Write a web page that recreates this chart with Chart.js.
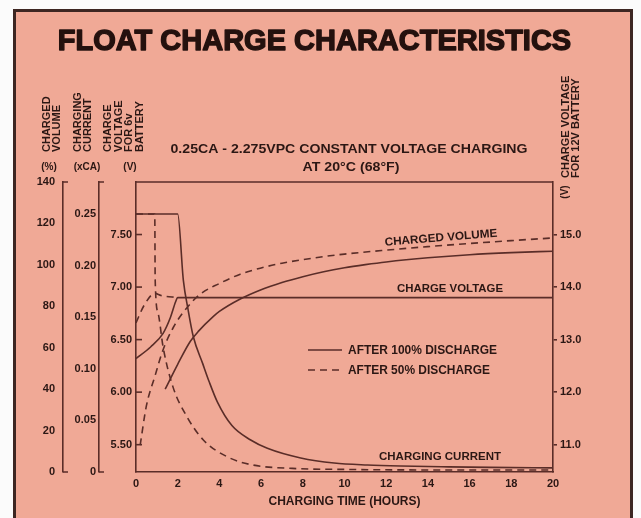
<!DOCTYPE html>
<html><head><meta charset="utf-8">
<script src="https://cdn.jsdelivr.net/npm/chart.js@4.4.1/dist/chart.umd.min.js"></script>
<style>
html,body{margin:0;padding:0;background:#fbfbfb;width:641px;height:518px;overflow:hidden;}
#box{position:absolute;left:13px;top:9px;width:614px;height:530px;background:#F0A996;border:3px solid #3d2622;}
canvas{position:absolute;left:0;top:0;}
</style></head><body>
<div id="box"></div>
<canvas id="c" width="641" height="518"></canvas>
<script>
// ---- tick values / labels ----
const hourTicks = [0, 2, 4, 6, 8, 10, 12, 14, 16, 18, 20];
const volTicks = [0, 20, 40, 60, 80, 100, 120, 140];
const curTicks = [0, 0.05, 0.10, 0.15, 0.20, 0.25];
const curTickLabels = ['0', '0.05', '0.10', '0.15', '0.20', '0.25'];
const v6Ticks = [5.5, 6.0, 6.5, 7.0, 7.5];
const v6TickLabels = ['5.50', '6.00', '6.50', '7.00', '7.50'];
const v12Ticks = [11, 12, 13, 14, 15];
const v12TickLabels = ['11.0', '12.0', '13.0', '14.0', '15.0'];

// ---- charged volume (%) ----
const volSolidHours = [1.4, 2, 2.6, 3, 3.7, 4, 5, 6, 7, 8, 9, 10, 11, 12, 14, 16, 18, 20];
const volSolid      = [40, 52, 63, 68, 75, 77.5, 83.5, 88, 91.5, 94.3, 96.7, 98.6, 100.1, 101.4, 103.4, 104.9, 105.9, 106.6];
const volDashHours  = [0.2, 0.5, 0.9, 1.3, 1.8, 2.5, 3.1, 4, 5, 6, 7, 8, 9, 10, 12, 14, 16, 18, 20];
const volDash       = [13, 32, 46, 59, 70, 80, 86, 91, 95.5, 98.5, 100.8, 102.5, 104, 105.2, 107.1, 108.8, 110.3, 111.7, 113];

// ---- charge voltage, 6V battery (V) ----
const voltSolidHours = [0, 0.7, 1.3, 1.65, 1.9, 2.0, 20];
const voltSolid      = [6.32, 6.43, 6.56, 6.71, 6.86, 6.9, 6.9];
const voltDashHours  = [0, 0.4, 0.9, 1.2, 2.0];
const voltDash       = [6.66, 6.83, 6.94, 6.92, 6.9];

// ---- charging current (xCA) ----
const curSolidHours = [0, 2.0, 2.27, 2.5, 2.75, 3.2, 3.5, 3.9, 4.6, 5.5, 6.3, 7.9, 9.5, 11.1, 12.7, 15, 17, 20];
const curSolid      = [0.25, 0.25, 0.186, 0.157, 0.131, 0.105, 0.088, 0.068, 0.045, 0.031, 0.023, 0.0136, 0.0087, 0.0068, 0.0058, 0.005, 0.0045, 0.004];
const curDashHours  = [0, 0.9, 0.92, 1.06, 1.3, 1.78, 2.46, 3.23, 4.4, 5.6, 7.5, 10, 14, 20];
const curDash       = [0.25, 0.25, 0.186, 0.154, 0.121, 0.082, 0.053, 0.031, 0.0145, 0.0068, 0.0035, 0.0025, 0.002, 0.002];

const LINE = '#5a2d28';
const TXT = '#2b1714';
const FAM = "'Liberation Sans', Arial, Helvetica, sans-serif";

function pts(xs, ys) { return xs.map((x, i) => ({x: x, y: ys[i]})); }
function series(label, xs, ys, axis, dashed) {
  return {label: label, data: pts(xs, ys), yAxisID: axis, borderColor: LINE, borderWidth: 1.6,
    borderDash: dashed ? [7, 5] : [], pointRadius: 0, fill: false, cubicInterpolationMode: 'monotone'};
}

function T(ctx, s, x, y, size, o) {
  o = o || {};
  ctx.save();
  ctx.font = (o.weight || 'bold') + ' ' + size + 'px ' + FAM;
  ctx.fillStyle = TXT;
  ctx.textAlign = o.align || 'center';
  ctx.textBaseline = 'middle';
  ctx.translate(x, y);
  if (o.rot) ctx.rotate(o.rot);
  if (o.w) { const m = ctx.measureText(s).width; ctx.scale(o.w / m, 1); }
  ctx.fillText(s, 0, 0);
  ctx.restore();
}

const decor = {
  id: 'decor',
  afterDraw(chart) {
    const ctx = chart.ctx, a = chart.chartArea;
    // thicken the heavy title glyphs
    const tb = chart.titleBlock, to = chart.options.plugins.title;
    if (tb) {
      ctx.save();
      ctx.font = 'bold ' + to.font.size + 'px ' + FAM;
      ctx.textAlign = 'center'; ctx.textBaseline = 'middle';
      ctx.strokeStyle = to.color; ctx.lineWidth = 1.4; ctx.lineJoin = 'round';
      ctx.strokeText(to.text, (tb.left + tb.right) / 2, tb.top + to.padding.top + to.font.size * 1.2 / 2);
      ctx.restore();
    }
    ctx.save();
    ctx.strokeStyle = LINE; ctx.lineWidth = 1.6;
    // top frame line of plot
    ctx.beginPath(); ctx.moveTo(a.left, a.top); ctx.lineTo(a.right, a.top); ctx.stroke();
    // end ticks on the outer axes
    ['yVol', 'yCur'].forEach(id => {
      const s = chart.scales[id];
      ctx.beginPath();
      ctx.moveTo(s.right, a.top); ctx.lineTo(s.right + 5, a.top);
      ctx.moveTo(s.right, a.bottom); ctx.lineTo(s.right + 5, a.bottom);
      ctx.stroke();
    });
    // inner ticks on 6V axis
    const sv = chart.scales.yV6;
    sv.ticks.forEach(t => {
      const y = sv.getPixelForValue(t.value);
      ctx.beginPath(); ctx.moveTo(a.left, y); ctx.lineTo(a.left + 6, y); ctx.stroke();
    });
    // legend
    ctx.beginPath(); ctx.moveTo(308, 350); ctx.lineTo(342, 350); ctx.stroke();
    ctx.setLineDash([7, 5]);
    ctx.beginPath(); ctx.moveTo(308, 370); ctx.lineTo(344, 370); ctx.stroke();
    ctx.setLineDash([]);
    ctx.restore();

    T(ctx, 'AFTER 100% DISCHARGE', 348, 351, 12, {align: 'left', w: 149});
    T(ctx, 'AFTER 50% DISCHARGE', 348, 371, 12, {align: 'left', w: 142});
    T(ctx, 'CHARGED VOLUME', 441, 238, 11.5, {rot: -0.08, w: 113});
    T(ctx, 'CHARGE VOLTAGE', 450, 289, 11.5, {w: 106});
    T(ctx, 'CHARGING CURRENT', 440, 457, 11.5, {w: 122});

    // subtitle
    T(ctx, '0.25CA - 2.275VPC CONSTANT VOLTAGE CHARGING', 349, 149, 13.5, {w: 357});
    T(ctx, 'AT 20°C (68°F)', 351, 167, 13.5, {w: 97});

    // left axis titles (rotated)
    const R = -Math.PI / 2;
    T(ctx, 'CHARGED', 47, 152, 11, {rot: R, align: 'left'});
    T(ctx, 'VOLUME', 57, 152, 11, {rot: R, align: 'left'});
    T(ctx, 'CHARGING', 78, 152, 11, {rot: R, align: 'left'});
    T(ctx, 'CURRENT', 88, 152, 11, {rot: R, align: 'left'});
    T(ctx, 'CHARGE', 108, 152, 11, {rot: R, align: 'left'});
    T(ctx, 'VOLTAGE', 118.5, 152, 11, {rot: R, align: 'left'});
    T(ctx, 'FOR 6v', 129, 152, 11, {rot: R, align: 'left'});
    T(ctx, 'BATTERY', 139.5, 152, 11, {rot: R, align: 'left'});
    T(ctx, '(%)', 49, 167, 10);
    T(ctx, '(xCA)', 87, 167, 10);
    T(ctx, '(V)', 130, 167, 10);
    // right axis title
    T(ctx, 'CHARGE VOLTAGE', 566, 178, 11, {rot: R, align: 'left'});
    T(ctx, 'FOR 12V BATTERY', 576, 178, 11, {rot: R, align: 'left'});
    T(ctx, '(V)', 565, 192, 10, {rot: R});
  }
};

const tickFont = {family: FAM, size: 11, weight: 'bold'};
function fixed(list) { return s => { s.ticks = list.map(v => ({value: v})); }; }
function yAxis(pos, weight, min, max, ticks, labels, width, pad, showTicks) {
  return {
    type: 'linear', position: pos, weight: weight, min: min, max: max,
    afterBuildTicks: fixed(ticks),
    afterFit: s => { s.width = width; },
    ticks: {font: tickFont, color: TXT, padding: pad, autoSkip: false, includeBounds: false,
      callback: (v) => { const i = ticks.indexOf(v); return labels ? labels[i] : String(v); }},
    grid: {display: true, drawOnChartArea: false, drawTicks: !!showTicks, tickLength: 4, color: LINE, lineWidth: 1.6},
    border: {display: true, color: LINE, width: 1.6}
  };
}

new Chart(document.getElementById('c'), {
  type: 'line',
  data: {datasets: [
    series('Charged volume (after 100% discharge)', volSolidHours, volSolid, 'yVol', false),
    series('Charged volume (after 50% discharge)', volDashHours, volDash, 'yVol', true),
    series('Charge voltage (after 100% discharge)', voltSolidHours, voltSolid, 'yV6', false),
    series('Charge voltage (after 50% discharge)', voltDashHours, voltDash, 'yV6', true),
    series('Charging current (after 100% discharge)', curSolidHours, curSolid, 'yCur', false),
    series('Charging current (after 50% discharge)', curDashHours, curDash, 'yCur', true)
  ]},
  options: {
    responsive: false, animation: false,
    layout: {padding: {left: 0, right: 12, top: 0, bottom: 0}},
    plugins: {
      legend: {display: false}, tooltip: {enabled: false},
      title: {display: true, text: 'FLOAT CHARGE CHARACTERISTICS', color: '#24110e',
        font: {family: FAM, size: 29, weight: 'bold'}, padding: {top: 24.6, bottom: 122.6}}
    },
    scales: {
      x: {
        type: 'linear', position: 'bottom', min: 0, max: 20,
        afterBuildTicks: fixed(hourTicks),
        afterFit: s => { s.height = 46; },
        ticks: {font: tickFont, color: TXT, padding: 5, autoSkip: false, maxRotation: 0, includeBounds: false},
        grid: {display: true, drawOnChartArea: false, drawTicks: false, color: LINE},
        border: {display: true, color: LINE, width: 1.6},
        title: {display: true, text: 'CHARGING TIME (HOURS)', color: TXT,
          font: {family: FAM, size: 12, weight: 'bold'}, padding: {top: 0, bottom: 9}}
      },
      yVol: yAxis('left', 3, 0, 140, volTicks, null, 63, 8, false),
      yCur: yAxis('left', 2, 0, 0.281, curTicks, curTickLabels, 36, 3, false),
      yV6: yAxis('left', 1, 5.24, 8.0, v6Ticks, v6TickLabels, 37, 4, false),
      yV12: yAxis('right', 1, 10.48, 16.0, v12Ticks, v12TickLabels, 76, 3, true)
    }
  },
  plugins: [decor]
});
</script>
</body></html>
